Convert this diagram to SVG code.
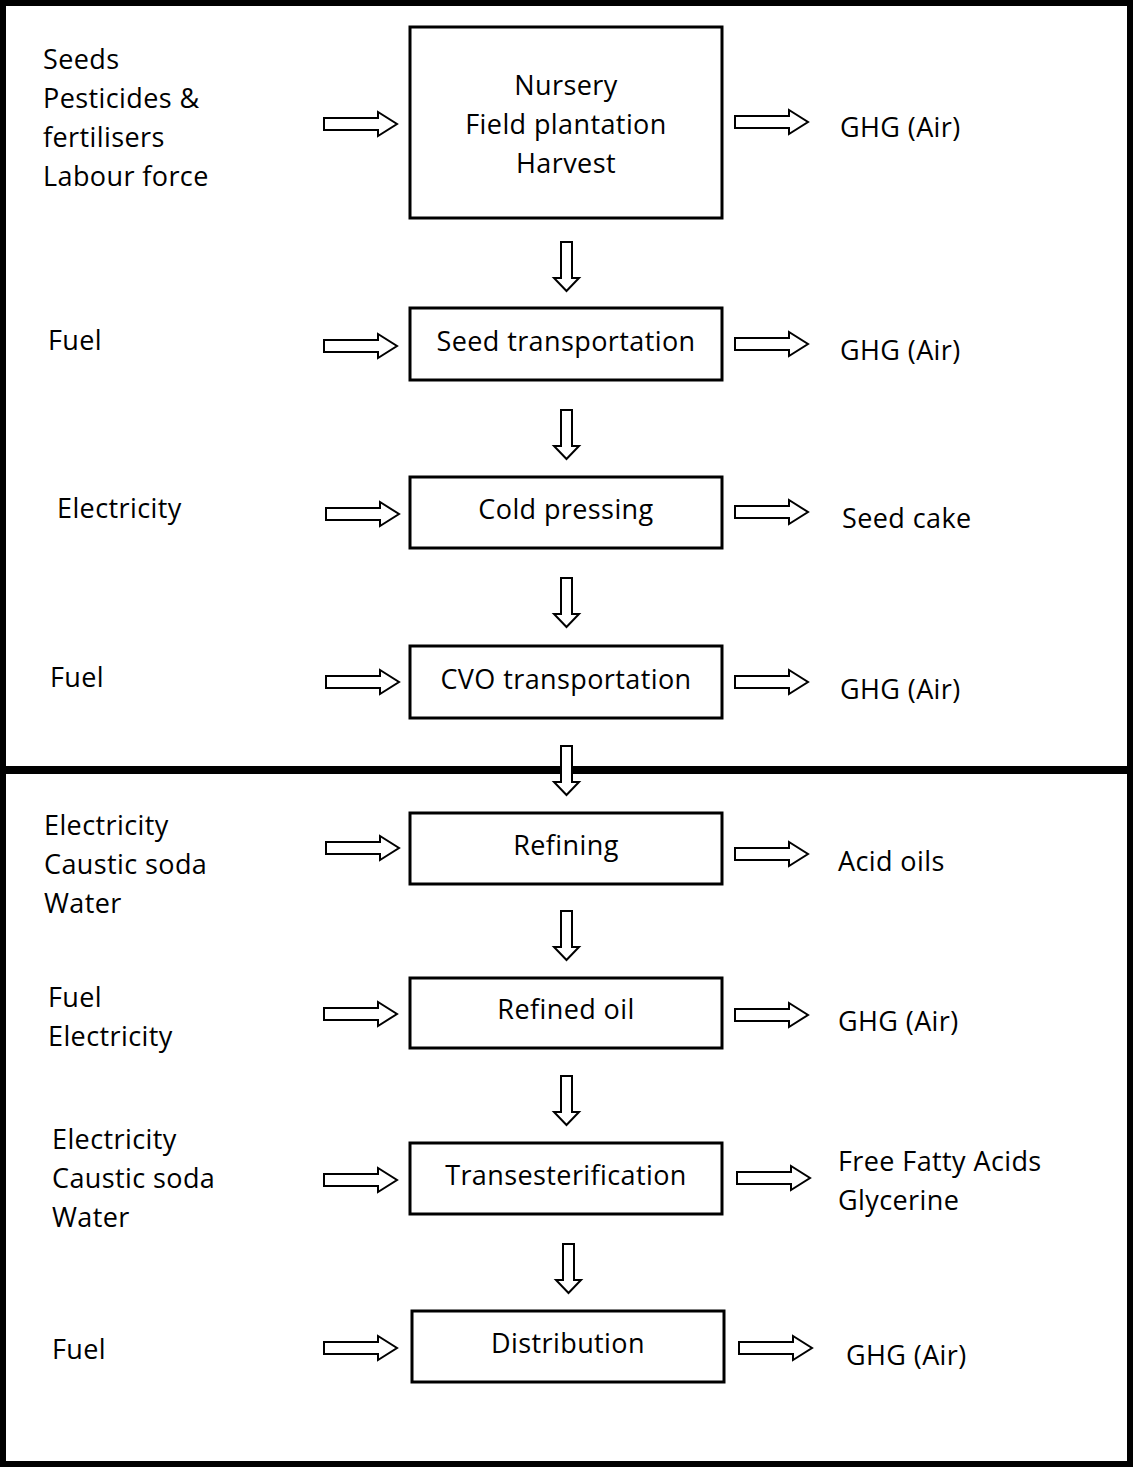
<svg xmlns="http://www.w3.org/2000/svg" xmlns:xlink="http://www.w3.org/1999/xlink" width="1133" height="1467" viewBox="0 0 1133 1467">
<style>
.box{fill:#fff;stroke:#000;stroke-width:3}
.t{font-family:"Open Sans","Liberation Sans",sans-serif;font-size:27px;letter-spacing:0.4px;fill:#000}
.c{text-anchor:middle}
.arr{fill:#fff;stroke:#000;stroke-width:2;stroke-linejoin:miter}
</style>
<defs>
<path id="ra" class="arr" d="M0,-6 H54 V-12 L73,0 L54,12 V6 H0 Z"/>
<path id="da" class="arr" d="M-5.5,0 H5.5 V36 H12.5 L0,49 L-12.5,36 H-5.5 Z"/>
</defs>
<rect x="0" y="0" width="1133" height="1467" fill="#fff"/>
<g id="frame">
<rect x="3" y="3" width="1127" height="1461" fill="none" stroke="#000" stroke-width="6"/>
<rect x="0" y="766" width="1133" height="8" fill="#000"/>
</g>
<g id="connectors">
<use xlink:href="#ra" x="324" y="124"/>
<use xlink:href="#ra" x="324" y="346"/>
<use xlink:href="#ra" x="326" y="514"/>
<use xlink:href="#ra" x="326" y="682"/>
<use xlink:href="#ra" x="326" y="848"/>
<use xlink:href="#ra" x="324" y="1014"/>
<use xlink:href="#ra" x="324" y="1180"/>
<use xlink:href="#ra" x="324" y="1348"/>
<use xlink:href="#ra" x="735" y="122"/>
<use xlink:href="#ra" x="735" y="344"/>
<use xlink:href="#ra" x="735" y="512"/>
<use xlink:href="#ra" x="735" y="682"/>
<use xlink:href="#ra" x="735" y="854"/>
<use xlink:href="#ra" x="735" y="1015"/>
<use xlink:href="#ra" x="737" y="1178"/>
<use xlink:href="#ra" x="739" y="1348"/>
<use xlink:href="#da" x="566.5" y="242"/>
<use xlink:href="#da" x="566.5" y="410"/>
<use xlink:href="#da" x="566.5" y="578"/>
<use xlink:href="#da" x="566.5" y="746"/>
<use xlink:href="#da" x="566.5" y="911"/>
<use xlink:href="#da" x="566.5" y="1076"/>
<use xlink:href="#da" x="568.5" y="1244"/>
</g>
<g id="n1"><rect class="box" x="410" y="27" width="312" height="191"/>
<text class="t c" x="566" y="95">Nursery</text><text class="t c" x="566" y="134">Field plantation</text><text class="t c" x="566" y="173">Harvest</text></g>
<g id="n2"><rect class="box" x="410" y="308" width="312" height="72"/><text class="t c" x="566" y="351">Seed transportation</text></g>
<g id="n3"><rect class="box" x="410" y="477" width="312" height="71"/><text class="t c" x="566" y="519">Cold pressing</text></g>
<g id="n4"><rect class="box" x="410" y="646" width="312" height="72"/><text class="t c" x="566" y="689">CVO transportation</text></g>
<g id="n5"><rect class="box" x="410" y="813" width="312" height="71"/><text class="t c" x="566" y="855">Refining</text></g>
<g id="n6"><rect class="box" x="410" y="978" width="312" height="70"/><text class="t c" x="566" y="1019">Refined oil</text></g>
<g id="n7"><rect class="box" x="410" y="1143" width="312" height="71"/><text class="t c" x="566" y="1185">Transesterification</text></g>
<g id="n8"><rect class="box" x="412" y="1311" width="312" height="71"/><text class="t c" x="568" y="1353">Distribution</text></g>
<g id="inputs">
<text class="t" x="43" y="69">Seeds</text><text class="t" x="43" y="108">Pesticides &amp;</text><text class="t" x="43" y="147">fertilisers</text><text class="t" x="43" y="186">Labour force</text>
<text class="t" x="48" y="350">Fuel</text>
<text class="t" x="57" y="518">Electricity</text>
<text class="t" x="50" y="687">Fuel</text>
<text class="t" x="44" y="835">Electricity</text><text class="t" x="44" y="874">Caustic soda</text><text class="t" x="44" y="913">Water</text>
<text class="t" x="48" y="1007">Fuel</text><text class="t" x="48" y="1046">Electricity</text>
<text class="t" x="52" y="1149">Electricity</text><text class="t" x="52" y="1188">Caustic soda</text><text class="t" x="52" y="1227">Water</text>
<text class="t" x="52" y="1359">Fuel</text>
</g>
<g id="outputs">
<text class="t" x="840" y="137">GHG (Air)</text>
<text class="t" x="840" y="360">GHG (Air)</text>
<text class="t" x="842" y="528">Seed cake</text>
<text class="t" x="840" y="699">GHG (Air)</text>
<text class="t" x="838" y="871">Acid oils</text>
<text class="t" x="838" y="1031">GHG (Air)</text>
<text class="t" x="838" y="1171">Free Fatty Acids</text><text class="t" x="838" y="1210">Glycerine</text>
<text class="t" x="846" y="1365">GHG (Air)</text>
</g>
</svg>
